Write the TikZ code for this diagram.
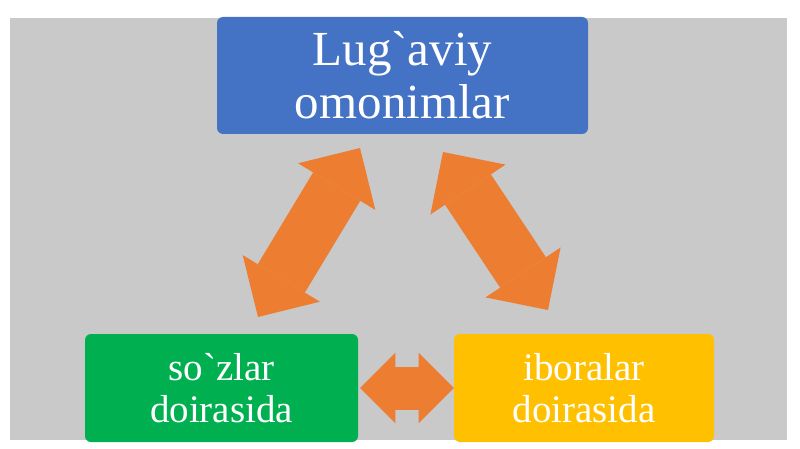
\documentclass[tikz,border=0pt]{standalone}
\usepackage{fontspec}
\setmainfont{Liberation Serif}[Ligatures=TeXOff]
\usepackage{tikz}
\usetikzlibrary{arrows.meta,positioning}
\definecolor{bgray}{HTML}{C9C9C9}
\definecolor{oblue}{HTML}{4472C4}
\definecolor{ogreen}{HTML}{00B050}
\definecolor{oyellow}{HTML}{FFC000}
\definecolor{oorange}{HTML}{ED7D31}

\begin{document}
\begin{tikzpicture}[x=1pt,y=-1pt,
   box/.style={rectangle,rounded corners=6pt,text=white,align=center,inner sep=0pt},
   dbl/.style={oorange,line width=#1,
     {Triangle[width=0pt 1.64,length=0pt 0.82,line width=0pt]}-{Triangle[width=0pt 1.64,length=0pt 0.82,line width=0pt]}}]
   \useasboundingbox (0,0) rectangle (800,449);
   \fill[bgray] (10,18) rectangle (787,440);
   \node[box,fill=oblue,minimum width=371pt,minimum height=117pt,font=\fontsize{49}{53}\selectfont] (lug) at (402.5,75.5) {Lug`aviy\\omonimlar};
   \node[box,fill=ogreen,minimum width=273pt,minimum height=108pt,font=\fontsize{39}{42}\selectfont] (soz) at (221.5,388) {so`zlar\\doirasida};
   \node[box,fill=oyellow,minimum width=260pt,minimum height=108pt,font=\fontsize{39}{42}\selectfont] (ibo) at (584,388) {iboralar\\doirasida};
   \coordinate (l1) at (258,317);
   \coordinate (l2) at (360,148);
   \coordinate (r1) at (443,152);
   \coordinate (r2) at (548,310);
   \draw[dbl=55pt] (l1) -- (l2);
   \draw[dbl=55pt] (r1) -- (r2);
   \draw[dbl=43pt,shorten <=2pt] (soz.east) -- (ibo.west);
\end{tikzpicture}
\end{document}
